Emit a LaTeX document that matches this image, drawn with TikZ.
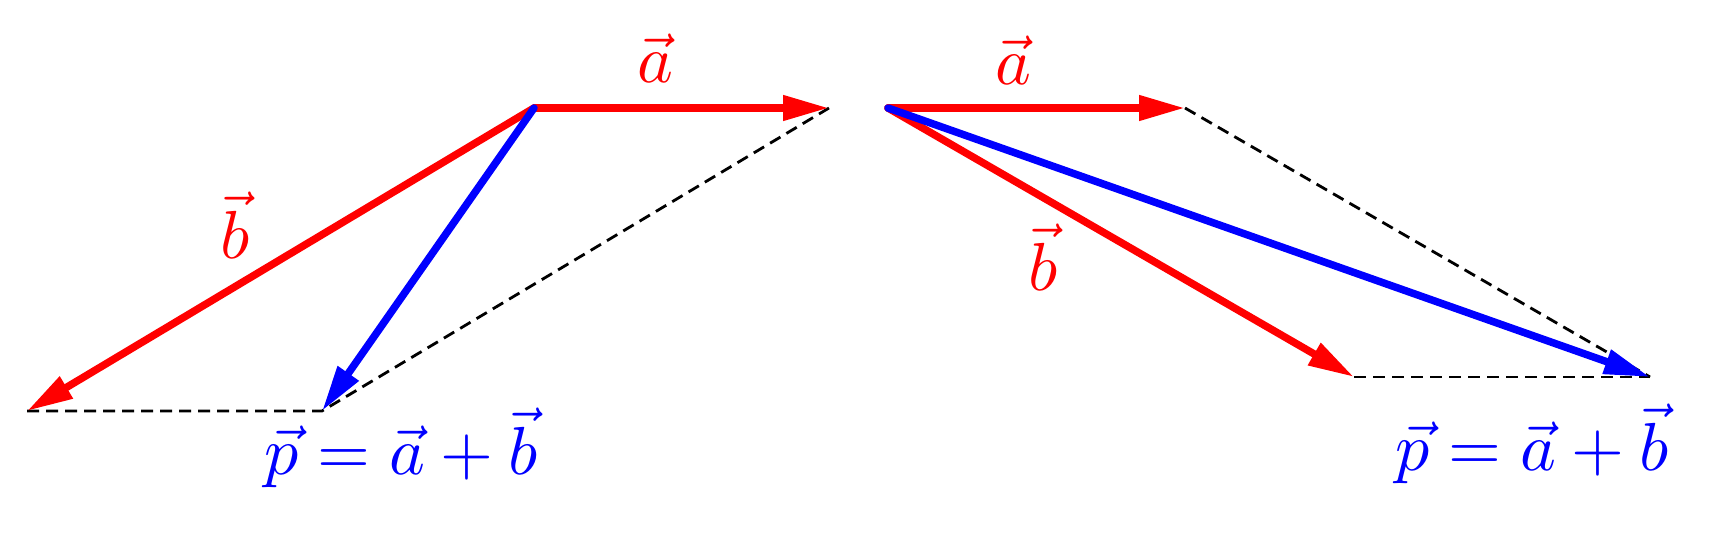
\documentclass[tikz,border=0pt]{standalone}
\usetikzlibrary{arrows.meta}
\tikzset{
  vecred/.style={draw=red, line width=7.5pt, line cap=round, -{Triangle[length=46pt,width=24pt]}},
  vecblue/.style={draw=blue, line width=7.5pt, line cap=round, -{Triangle[length=46pt,width=24pt]}},
  helper/.style={draw=black, line width=2.8pt, dash pattern=on 12pt off 7pt},
  lbl/.style={inner sep=0pt, anchor=base, scale=6.8},
}
\begin{document}
\begin{tikzpicture}[x=1pt,y=-1pt]
\useasboundingbox (0,0) rectangle (1731,540);
% left figure
\coordinate (O1) at (534,108);
\coordinate (A1) at (829,108);
\coordinate (B1) at (27,411);
\coordinate (P1) at (322,411);
\draw[helper] (B1) -- (P1) -- (A1);
\draw[vecred] (O1) -- (A1);
\draw[vecred] (O1) -- (B1);
\draw[vecblue] (O1) -- (P1);
\node[lbl, text=red] (la1) at (655,83) {$\vec a$};
\node[lbl, text=red] (lb1) at (235,258) {$\vec b$};
\node[lbl, text=blue] (lp1) at (401,474) {$\vec p=\vec a+\vec b$};
% right figure
\coordinate (O2) at (888,108);
\coordinate (A2) at (1185,108);
\coordinate (B2) at (1354,377);
\coordinate (P2) at (1650,377);
\draw[helper] (A2) -- (P2);
\draw[helper] (B2) -- (P2);
\draw[vecred] (O2) -- (A2);
\draw[vecred] (O2) -- (B2);
\draw[vecblue] (O2) -- (P2);
\node[lbl, text=red] (la2) at (1013,85) {$\vec a$};
\node[lbl, text=red] (lb2) at (1043,290) {$\vec b$};
\node[lbl, text=blue] (lp2) at (1532,470) {$\vec p=\vec a+\vec b$};
\end{tikzpicture}
\end{document}
